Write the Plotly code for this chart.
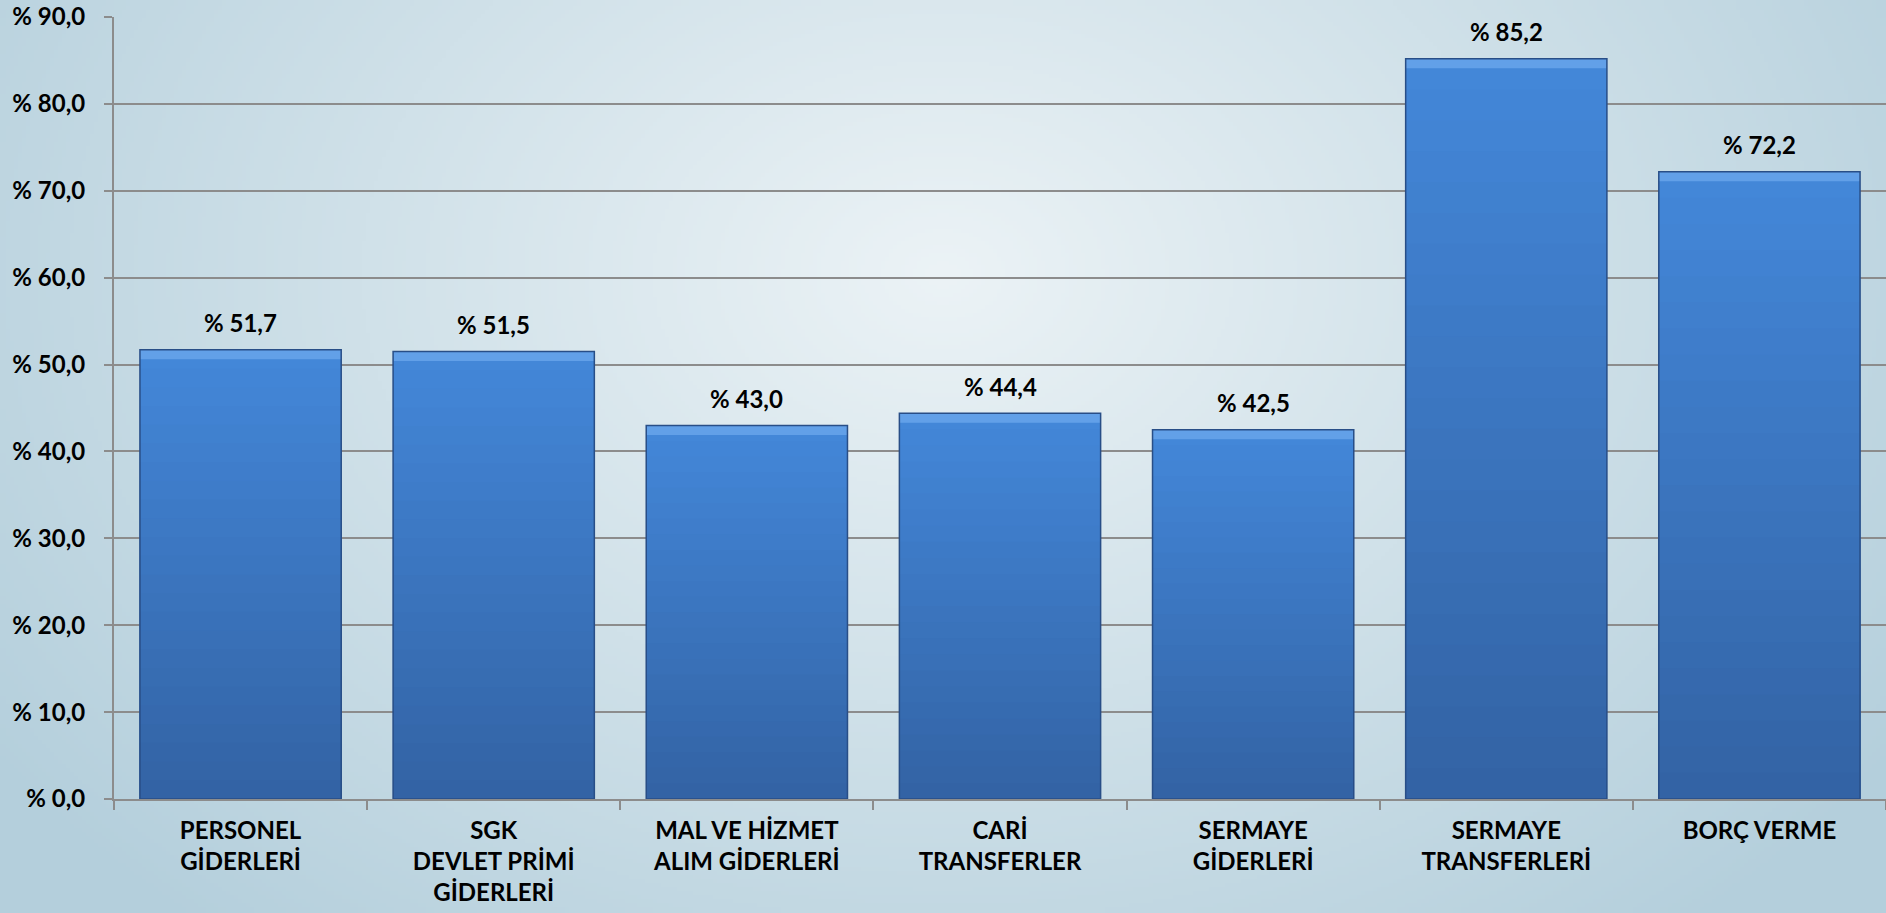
import base64
import struct
import zlib

import numpy as np
import plotly.graph_objects as go

# ---------------- data ----------------
categories = [
    "PERSONEL<br>GİDERLERİ",
    "SGK<br>DEVLET PRİMİ<br>GİDERLERİ",
    "MAL VE HİZMET<br>ALIM GİDERLERİ",
    "CARİ<br>TRANSFERLER",
    "SERMAYE<br>GİDERLERİ",
    "SERMAYE<br>TRANSFERLERİ",
    "BORÇ VERME",
]
values = [51.7, 51.5, 43.0, 44.4, 42.5, 85.2, 72.2]
y_ticks = [0, 10, 20, 30, 40, 50, 60, 70, 80, 90]


def tr_pct(v):
    return "% " + f"{v:.1f}".replace(".", ",")


y_ticktext = [tr_pct(t) for t in y_ticks]
bar_labels = [tr_pct(v) for v in values]

# ---------------- layout geometry ----------------
W, H = 1886, 913
ML, MR, MT, MB = 114, 0, 17, 114
PW, PH = W - ML - MR, H - MT - MB

FONT = "Lato"


# ---------------- background radial gradient (decoration) ----------------
def make_png(arr):
    h, w, _ = arr.shape
    raw = b"".join(b"\x00" + arr[r].tobytes() for r in range(h))

    def chunk(tag, data):
        c = struct.pack(">I", len(data)) + tag + data
        return c + struct.pack(">I", zlib.crc32(tag + data) & 0xFFFFFFFF)

    png = b"\x89PNG\r\n\x1a\n"
    png += chunk(b"IHDR", struct.pack(">IIBBBBB", w, h, 8, 2, 0, 0, 0))
    png += chunk(b"IDAT", zlib.compress(raw, 9))
    png += chunk(b"IEND", b"")
    return png


gw, gh = 472, 229
xx, yy = np.meshgrid(np.linspace(0, 1, gw), np.linspace(0, 1, gh))
cx, cy = 0.5, 0.3
d = np.sqrt(((xx - cx) / 0.62) ** 2 + ((yy - cy) / 0.95) ** 2)
d = np.clip(d, 0, 1)
c_in = np.array([236, 243, 246], dtype=float)
c_out = np.array([180, 207, 220], dtype=float)
img = (c_in[None, None, :] * (1 - d[..., None]) + c_out[None, None, :] * d[..., None])
img = img.clip(0, 255).astype(np.uint8)
bg_src = "data:image/png;base64," + base64.b64encode(make_png(img)).decode()

# ---------------- figure ----------------
fig = go.Figure()

# gradient-shaded bars: overlaid bars of decreasing height (light top -> dark bottom)
N = 24
top_col = np.array([68, 136, 218])
bot_col = np.array([51, 99, 164])
vals = np.array(values)
for i in range(N):
    frac_h = (N - i) / N
    f = (N - i - 0.5) / N
    col = bot_col * (1 - f) + top_col * f
    fig.add_trace(go.Bar(
        x=categories,
        y=vals * frac_h,
        marker=dict(color="rgb(%d,%d,%d)" % tuple(col.astype(int)), line=dict(width=0)),
        hoverinfo="skip",
        showlegend=False,
    ))

# top bevel highlight
fig.add_trace(go.Bar(
    x=categories,
    y=[1.1] * len(values),
    base=[v - 1.1 for v in values],
    marker=dict(color="rgb(98,160,232)", line=dict(width=0)),
    hoverinfo="skip",
    showlegend=False,
))

# outline
fig.add_trace(go.Bar(
    x=categories,
    y=values,
    marker=dict(color="rgba(0,0,0,0)", line=dict(color="rgb(40,78,135)", width=1.5)),
    showlegend=False,
    hovertemplate="%{x}: %{y}<extra></extra>",
))

for c, v, t in zip(categories, values, bar_labels):
    fig.add_annotation(
        x=c, y=v, text=t, showarrow=False, yanchor="middle", yshift=27,
        font=dict(family=FONT, size=24, color="black", weight="bold"),
    )

fig.update_layout(
    width=W,
    height=H,
    margin=dict(l=ML, r=MR, t=MT, b=MB, pad=0),
    barmode="overlay",
    bargap=0.205,
    paper_bgcolor="rgb(200,220,229)",
    plot_bgcolor="rgba(0,0,0,0)",
    font=dict(family=FONT, size=24, color="black"),
    images=[dict(
        source=bg_src, xref="paper", yref="paper",
        x=-ML / PW, y=1 + MT / PH, sizex=W / PW, sizey=H / PH,
        xanchor="left", yanchor="top", sizing="stretch", layer="below",
    )],
    xaxis=dict(
        type="category",
        showline=True, linecolor="rgb(140,140,140)", linewidth=2,
        ticks="outside", ticklen=9, tickcolor="rgb(140,140,140)", tickwidth=2,
        tickson="boundaries",
        showgrid=False,
        tickfont=dict(family=FONT, size=24, color="black", weight="bold"),
        ticklabelstandoff=9,
    ),
    yaxis=dict(
        range=[0, 90],
        tickvals=y_ticks, ticktext=y_ticktext,
        showline=True, linecolor="rgb(140,140,140)", linewidth=2,
        ticks="outside", ticklen=8, tickcolor="rgb(140,140,140)", tickwidth=2,
        showgrid=True, gridcolor="rgb(140,140,140)", gridwidth=2,
        zeroline=False,
        tickfont=dict(family=FONT, size=24, color="black", weight="bold"),
        ticklabelstandoff=14,
    ),
)

fig.write_html(
    "out.html",
    config={"displayModeBar": False},
    post_script="document.body.style.margin='0';document.body.style.overflow='hidden';",
)
